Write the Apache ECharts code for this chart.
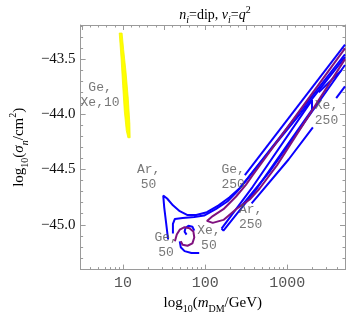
<!DOCTYPE html>
<html><head><meta charset="utf-8">
<script src="https://cdn.jsdelivr.net/npm/echarts@6/dist/echarts.min.js"></script>
<style>html,body{margin:0;padding:0;background:#fff}#c{width:346px;height:319px}</style>
</head><body><div id="c"></div>
<script>
// x values are log10(m_DM/GeV), y values are log10(sigma_n/cm^2)
const xTickMasses = [10, 100, 1000];
const xMinorMasses = [4,5,6,7,8,9,20,30,40,50,60,70,80,90,200,300,400,500,600,700,800,900,2000,3000,4000,5000];
const yTickValues = [-45.0, -44.5, -44.0, -43.5];

const yellowGeXe10 = [[0.953,-43.264],[0.976,-43.500],[0.995,-43.736],[1.015,-43.970],[1.039,-44.147],[1.059,-44.212],[1.086,-44.212],[1.083,-44.089],[1.063,-43.853],[1.036,-43.617],[1.007,-43.412],[0.988,-43.264],[0.953,-43.264]];
const blueAr50Outer = [[1.548,-45.133],[1.524,-44.983],[1.501,-44.842],[1.489,-44.736],[1.536,-44.762],[1.607,-44.824],[1.690,-44.877],[1.785,-44.912],[1.891,-44.912],[2.021,-44.886],[2.163,-44.824],[2.293,-44.753],[2.412,-44.674],[2.518,-44.577],[2.696,-44.409],[3.169,-43.959],[3.702,-43.456]];
const blueAr50Inner = [[1.607,-45.080],[1.607,-44.992],[1.631,-44.947],[1.725,-44.939],[1.867,-44.930],[1.986,-44.917],[2.128,-44.859],[2.270,-44.789],[2.388,-44.700],[2.495,-44.603],[2.672,-44.436],[3.169,-43.985],[3.702,-43.482]];
const blueTop = [[2.483,-44.550],[3.702,-43.368]];
const purpleGe250 = [[3.702,-43.403],[2.578,-44.550],[2.495,-44.639],[2.376,-44.744],[2.222,-44.859],[2.092,-44.921],[2.021,-44.965],[2.092,-44.983],[2.222,-44.956],[2.376,-44.859],[2.542,-44.771],[2.660,-44.674],[2.873,-44.462],[3.702,-43.500]];
const blueLineII = [[2.447,-44.824],[2.779,-44.524],[3.702,-43.553]];
const blueXe250 = [[2.199,-45.035],[2.578,-44.656],[3.300,-43.871],[3.300,-43.959],[2.601,-44.700],[2.222,-45.053],[2.199,-45.035]];
const blueXe250Tail = [[3.382,-43.800],[3.654,-43.606]];
const blueAr250a = [[2.565,-44.806],[3.015,-44.409],[3.311,-44.118]];
const blueAr250b = [[3.595,-43.853],[3.702,-43.747]];
const blueGe50Bottom = [[1.690,-45.150],[1.702,-45.203],[1.749,-45.239],[1.832,-45.256],[1.927,-45.256]];
const blueXe50Hook = [[1.867,-45.053],[1.844,-45.018],[1.796,-45.009],[1.761,-45.027],[1.749,-45.062],[1.773,-45.089]];
const purpleGe50 = [[1.631,-45.150],[1.654,-45.089],[1.690,-45.045],[1.749,-45.022],[1.808,-45.031],[1.856,-45.062],[1.867,-45.115],[1.844,-45.168],[1.785,-45.190],[1.725,-45.181],[1.702,-45.150]];

const labelTexts = ['Ge,\nXe,10', 'Xe,\n250', 'Ar,\n50', 'Ge,\n250', 'Ar,\n250', 'Xe,\n50', 'Ge,\n50'];
const labelPos = [[0.720,-43.827],[3.477,-43.985],[1.311,-44.568],[2.341,-44.568],[2.554,-44.930],[2.045,-45.124],[1.524,-45.186]];

const X_MIN = 0.483, X_MAX = 3.702, Y_MIN = -45.406, Y_MAX = -43.191;
const FRAME = '#9a9a9a';
const serif = 'Liberation Serif';
const rich = {
  r: {fontFamily: serif, fontSize: 15, fontWeight: 'normal', color: '#000', lineHeight: 22},
  i: {fontFamily: serif, fontSize: 15, fontWeight: 'normal', fontStyle: 'italic', color: '#000', lineHeight: 22},
  s: {fontFamily: serif, fontSize: 10, fontWeight: 'normal', color: '#000', verticalAlign: 'bottom', lineHeight: 14},
  si: {fontFamily: serif, fontSize: 10, fontWeight: 'normal', fontStyle: 'italic', color: '#000', verticalAlign: 'bottom', lineHeight: 14},
  p: {fontFamily: serif, fontSize: 10, fontWeight: 'normal', color: '#000', verticalAlign: 'top', lineHeight: 16}
};
const titleRich = {
  r: {fontFamily: serif, fontSize: 14, fontWeight: 'normal', color: '#000', lineHeight: 20},
  i: {fontFamily: serif, fontSize: 14, fontWeight: 'normal', fontStyle: 'italic', color: '#000', lineHeight: 20},
  si: {fontFamily: serif, fontSize: 10, fontWeight: 'normal', fontStyle: 'italic', color: '#000', verticalAlign: 'bottom', lineHeight: 13},
  p: {fontFamily: serif, fontSize: 10, fontWeight: 'normal', color: '#000', verticalAlign: 'top', lineHeight: 14}
};

const lg = v => Math.log10(v);
const range = (a, b, step) => { const out = []; for (let v = a; v <= b + 1e-9; v += step) out.push(Math.round(v * 10) / 10); return out; };
const topMajor = range(0.5, 3.5, 0.5);
const topMinor = range(0.5, 3.7, 0.1).filter(v => topMajor.indexOf(v) < 0);
const yMinor = range(-45.4, -43.2, 0.1).filter(v => yTickValues.indexOf(v) < 0);

function xAx(pos, ticks, len, labels, line) {
  return {type: 'value', position: pos, min: X_MIN, max: X_MAX, gridIndex: 0,
    axisLine: {show: line, lineStyle: {color: FRAME, width: 1}},
    axisTick: {show: true, inside: true, length: len, customValues: ticks, lineStyle: {color: FRAME}},
    axisLabel: labels ? {show: true, customValues: ticks, margin: 6, color: '#555', fontFamily: 'Liberation Mono', fontSize: 15,
      formatter: v => String(Math.round(Math.pow(10, v)))} : {show: false},
    splitLine: {show: false}};
}
function yAx(pos, ticks, len, labels, line) {
  return {type: 'value', position: pos, min: Y_MIN, max: Y_MAX, gridIndex: 0,
    axisLine: {show: line, lineStyle: {color: FRAME, width: 1}},
    axisTick: {show: true, inside: true, length: len, customValues: ticks, lineStyle: {color: FRAME}},
    axisLabel: labels ? {show: true, customValues: ticks, margin: 5, color: '#111', fontFamily: serif, fontSize: 15,
      formatter: v => v.toFixed(1).replace('-', '\u2212')} : {show: false},
    splitLine: {show: false}};
}

const xAxes = [
  xAx('bottom', xTickMasses.map(lg), 5, true, true),
  xAx('bottom', xMinorMasses.map(lg), 2.5, false, false),
  xAx('top', topMajor, 5, false, true),
  xAx('top', topMinor, 2.5, false, false)
];
xAxes[0].name = '{r|log}{s|10}{r|(}{i|m}{s|DM}{r|/GeV)}';
xAxes[0].nameLocation = 'middle';
xAxes[0].nameGap = 20;
xAxes[0].nameTextStyle = {rich: rich};

const yAxes = [
  yAx('left', yTickValues, 5, true, true),
  yAx('left', yMinor, 2.5, false, false),
  yAx('right', yTickValues, 5, false, true),
  yAx('right', yMinor, 2.5, false, false)
];
yAxes[0].name = '{r|log}{s|10}{r|(}{i|σ}{si|n}{r|/cm}{p|2}{r|)}';
yAxes[0].nameLocation = 'middle';
yAxes[0].nameGap = 48;
yAxes[0].nameTextStyle = {rich: rich};

function line(data, color) {
  return {type: 'line', data: data, xAxisIndex: 0, yAxisIndex: 0, showSymbol: false, symbol: 'none',
    lineStyle: {color: color, width: 2}, itemStyle: {color: color}, silent: true, animation: false, z: 3};
}
const BLUE = '#0a00ff', PURPLE = '#80127f';

const series = [
  {type: 'custom', xAxisIndex: 0, yAxisIndex: 0, data: [[1, -43.7]], silent: true, animation: false, z: 2,
    renderItem: (params, api) => ({type: 'polygon', shape: {points: yellowGeXe10.map(p => api.coord(p))},
      style: {fill: '#ffff00', stroke: '#f4f400', lineWidth: 0.8}})},
  line(blueTop, BLUE),
  line(blueAr50Outer, BLUE),
  line(blueAr50Inner, BLUE),
  line(blueLineII, BLUE),
  line(blueXe250, BLUE),
  line(blueXe250Tail, BLUE),
  line(blueAr250a, BLUE),
  line(blueAr250b, BLUE),
  line(blueGe50Bottom, BLUE),
  line(blueXe50Hook, BLUE),
  line(purpleGe250, PURPLE),
  line(purpleGe50, PURPLE),
  {type: 'scatter', xAxisIndex: 0, yAxisIndex: 0, symbolSize: 0, silent: true, animation: false, z: 5,
    data: labelTexts.map((t, k) => ({name: t, value: labelPos[k]})),
    label: {show: true, position: 'inside', formatter: p => p.name, fontFamily: 'Liberation Mono', fontSize: 13,
      lineHeight: 15, color: '#555', align: 'center', verticalAlign: 'middle'}}
];

const chart = echarts.init(document.getElementById('c'), null, {renderer: 'canvas'});
chart.setOption({
  animation: false,
  backgroundColor: '#fff',
  title: {text: '{i|n}{si|i}{r|=dip, }{i|ν}{si|i}{r|=}{i|q}{p|2}', left: 210, top: 0, textAlign: 'center',
    textStyle: {fontWeight: 'normal', rich: titleRich}},
  grid: {left: 73, right: 1, top: 25, bottom: 43, containLabel: false},
  xAxis: xAxes,
  yAxis: yAxes,
  series: series
});
</script></body></html>
